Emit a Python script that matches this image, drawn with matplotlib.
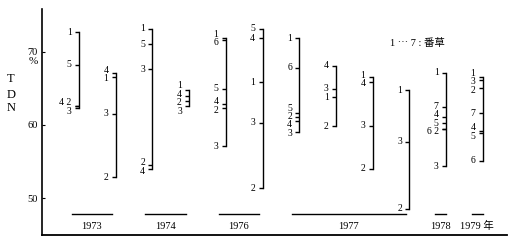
import matplotlib.pyplot as plt
import numpy as np

plt.rcParams['font.family'] = ['Liberation Serif', 'DejaVu Serif', 'Noto Sans CJK JP']

# TDN (%) by cut number (1st, 2nd, ...) for each bracket, left to right
t1973_a = [72.6, 62.6, 62.3, 62.6, 68.2]
t1973_b = [66.6, 52.9, 61.5, 67.1]
t1974_a = [73.1, 54.5, 67.6, 54.0, 71.0]
t1974_b = [64.7, 63.2, 62.6, 63.9]
t1976_a = [71.9, 62.3, 57.1, 62.9, 64.9, 71.6]
t1976_b = [65.8, 51.4, 60.3, 71.8, 73.1]
t1977_a = [71.8, 61.1, 59.0, 60.6, 61.6, 67.8]
t1977_b = [63.8, 59.8, 64.9, 68.1]
t1977_c = [66.5, 54.0, 59.9, 65.9]
t1977_d = [64.7, 48.6, 57.7]
t1978 = [67.1, 59.4, 54.4, 61.1, 60.3, 59.4, 62.4]
t1979 = [66.5, 65.1, 66.1, 59.2, 58.9, 55.1, 61.6]

brackets = [t1973_a, t1973_b, t1974_a, t1974_b, t1976_a, t1976_b,
            t1977_a, t1977_b, t1977_c, t1977_d, t1978, t1979]

years = ['1973', '1974', '1976', '1977', '1978', '1979 年']
year_first = [0, 2, 4, 6, 10, 11]
year_last = [1, 3, 5, 9, 10, 11]


def spread(vals, gap=1.15):
    # stack labels so they don't overlap, centred on their values
    clusters = []
    for v in vals:
        clusters.append([v])
        while len(clusters) > 1:
            a, b = clusters[-2], clusters[-1]
            a_low = np.mean(a) - gap * (len(a) - 1) / 2
            b_top = np.mean(b) + gap * (len(b) - 1) / 2
            if a_low - b_top < gap:
                clusters[-2:] = [a + b]
            else:
                break
    pos = []
    for c in clusters:
        m = np.mean(c)
        pos += [m + gap * ((len(c) - 1) / 2 - k) for k in range(len(c))]
    return pos


fig = plt.figure(figsize=(5.14, 2.46), dpi=100)
ax = fig.add_axes([42 / 514, 11 / 246, 465 / 514, 226 / 246])
ax.set_xlim(-1.01, 11.66)
ax.set_ylim(45.0, 75.8)

for i, vals in enumerate(brackets):
    vals = np.array(vals)
    ax.plot([i, i], [vals.min(), vals.max()], color='black', lw=1.0)
    ax.hlines(vals, i - 0.11, i, color='black', lw=1.0)
    # group equal values into one label, e.g. "4 2"
    uniq = sorted(set(vals), reverse=True)
    texts = []
    for u in uniq:
        cuts = [str(k + 1) for k in range(len(vals)) if vals[k] == u]
        texts.append(' '.join(cuts[::-1]))
    for txt, y in zip(texts, spread(uniq)):
        ax.text(i - 0.2, y, txt, ha='right', va='center', fontsize=7)

for name, a, b in zip(years, year_first, year_last):
    if a == b:
        x0, x1 = b - 0.3, b
    else:
        x0, x1 = a - 0.2, b - 0.1
    ax.plot([x0, x1], [47.9, 47.9], color='black', lw=1.0)
    ax.text((x0 + x1) / 2, 46.2, name, ha='center', va='center', fontsize=7.5)

ax.spines['top'].set_visible(False)
ax.spines['right'].set_visible(False)
ax.spines['left'].set_linewidth(1.2)
ax.spines['bottom'].set_linewidth(1.3)
ax.set_xticks([])
ax.set_yticks([50, 60, 70])
ax.tick_params(axis='y', direction='in', length=2.5, pad=3, labelsize=7.5)

fig.text(33 / 514, 1 - 62 / 246, '%', ha='center', va='center', fontsize=8)
for ch, py in zip('TDN', [79, 95, 108]):
    fig.text(11 / 514, 1 - py / 246, ch, ha='center', va='center', fontsize=9)
fig.text(390 / 514, 1 - 43 / 246, '1 \u22ef 7 : 番草', ha='left', va='center', fontsize=7.5)

fig.savefig('out.png', dpi=100)
